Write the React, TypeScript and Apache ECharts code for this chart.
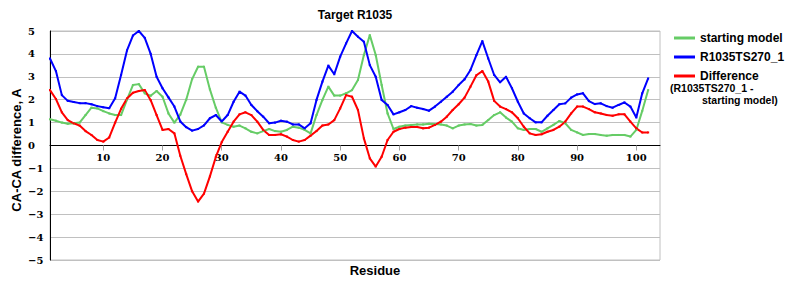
import React, { useEffect, useRef } from "react";
import * as echarts from "echarts";

const residues: string[] = Array.from({ length: 104 }, (_, i) => String(i + 1));
const xTickLabels = ["10", "20", "30", "40", "50", "60", "70", "80", "90", "100"];
const seriesNames = ["starting model", "R1035TS270_1", "Difference"];

const startingModel = [
  1.15, 1.08, 1.0, 0.95, 0.97, 1.0, 1.33, 1.65, 1.62, 1.5,
  1.4, 1.33, 1.33, 2.0, 2.64, 2.68, 2.28, 2.17, 2.38, 2.13,
  1.4, 1.0, 1.35, 2.0, 2.9, 3.44, 3.44, 2.45, 1.65, 1.01,
  0.9, 0.82, 0.87, 0.75, 0.6, 0.53, 0.63, 0.72, 0.63, 0.6,
  0.68, 0.82, 0.78, 0.68, 0.53, 1.33, 1.99, 2.57, 2.18, 2.18,
  2.28, 2.42, 2.86, 3.95, 4.82, 3.95, 2.64, 1.4, 0.72, 0.82,
  0.87, 0.9, 0.92, 0.92, 0.95, 0.94, 0.92, 0.87, 0.75, 0.87,
  0.92, 0.94, 0.87, 0.9, 1.11, 1.33, 1.45, 1.22, 1.04, 0.75,
  0.68, 0.72, 0.72, 0.6, 0.75, 0.9, 1.07, 0.97, 0.68, 0.57,
  0.46, 0.5, 0.5, 0.46, 0.43, 0.46, 0.46, 0.46, 0.39, 0.68,
  1.51, 2.42,
];

const model = [
  3.8, 3.25, 2.2, 1.95, 1.9, 1.85, 1.85, 1.8, 1.72, 1.67,
  1.63, 2.06, 3.08, 4.15, 4.8, 5.0, 4.7, 4.0, 3.0, 2.5,
  2.1, 1.7, 1.05, 0.8, 0.65, 0.72, 0.88, 1.19, 1.33, 1.05,
  1.33, 1.91, 2.35, 2.18, 1.77, 1.5, 1.26, 0.97, 1.0, 1.08,
  1.04, 0.92, 0.92, 0.75, 0.97, 1.99, 2.79, 3.49, 3.11, 3.88,
  4.46, 5.0, 4.75, 4.53, 3.51, 3.0, 1.99, 1.77, 1.36, 1.45,
  1.55, 1.72, 1.65, 1.59, 1.52, 1.7, 1.91, 2.13, 2.35, 2.64,
  2.89, 3.3, 3.95, 4.56, 3.8, 3.08, 2.76, 3.0, 2.5, 1.91,
  1.4, 1.19, 1.01, 1.01, 1.3, 1.55, 1.8, 1.84, 2.09, 2.23,
  2.28, 1.94, 1.81, 1.84, 1.72, 1.65, 1.77, 1.88, 1.7, 1.22,
  2.28, 2.93,
];

const difference = [
  2.42, 2.03, 1.45, 1.11, 0.97, 0.87, 0.63, 0.46, 0.24, 0.17,
  0.35, 1.0, 1.6, 2.05, 2.3, 2.38, 2.42, 1.98, 1.33, 0.68,
  0.72, 0.53, -0.45, -1.25, -2.0, -2.45, -2.1, -1.35, -0.5, 0.15,
  0.6, 1.04, 1.36, 1.45, 1.33, 1.04, 0.68, 0.46, 0.46, 0.49,
  0.39, 0.24, 0.17, 0.24, 0.43, 0.63, 0.87, 0.92, 1.11, 1.62,
  2.2, 2.13, 1.55, 0.31, -0.56, -0.92, -0.49, 0.24, 0.6, 0.72,
  0.78, 0.81, 0.81, 0.75, 0.78, 0.9, 1.04, 1.26, 1.55, 1.8,
  2.09, 2.57, 3.07, 3.25, 2.79, 1.95, 1.7, 1.59, 1.45, 1.19,
  0.82, 0.53, 0.46, 0.49, 0.6, 0.68, 0.82, 1.04, 1.4, 1.7,
  1.7, 1.59, 1.45, 1.4, 1.33, 1.3, 1.36, 1.36, 1.04, 0.75,
  0.57, 0.57,
];

const colors = ["#66cc66", "#0000ff", "#ff0000"];
const sans = '"Liberation Sans", Arial, sans-serif';
const serif = '"DejaVu Serif", serif';

export default function App() {
  const ref = useRef<HTMLDivElement>(null);
  useEffect(() => {
    if (!ref.current) return;
    const chart = echarts.init(ref.current, undefined, { renderer: "svg" });
    const showTick = (_i: number, v: string) => xTickLabels.includes(v);
    const mk = (name: string, data: number[], color: string) => ({
      name,
      type: "line",
      data,
      symbol: "rect",
      symbolSize: 2,
      showSymbol: true,
      lineStyle: { color, width: 2 },
      itemStyle: { color },
      z: 3,
    });
    chart.setOption({
      animation: false,
      grid: {
        left: 50,
        right: 140,
        top: 31,
        bottom: 40,
        show: true,
        borderColor: "#c0c0c0",
        borderWidth: 1,
      },
      xAxis: {
        type: "category",
        data: residues,
        boundaryGap: false,
        position: "bottom",
        offset: -114.5,
        axisLine: { onZero: false, lineStyle: { color: "#000", width: 1 } },
        axisTick: {
          interval: showTick,
          length: 5,
          lineStyle: { color: "#a0a0a0" },
        },
        axisLabel: {
          interval: showTick,
          fontFamily: serif,
          fontWeight: "bold",
          fontSize: 10,
          color: "#000",
          margin: 7,
        },
        splitLine: { show: false },
      },
      yAxis: {
        type: "value",
        min: -5,
        max: 5,
        interval: 1,
        axisLine: { show: true, onZero: false, lineStyle: { color: "#000" } },
        axisTick: { show: false },
        axisLabel: {
          formatter: (v: number) => (v < 0 ? "\u2212" + Math.abs(v) : String(v)),
          align: "left",
          margin: 22,
          fontFamily: serif,
          fontWeight: "bold",
          fontSize: 10,
          color: "#000",
        },
        splitLine: { lineStyle: { color: "#c0c0c0", width: 1 } },
      },
      legend: {
        orient: "vertical",
        left: 669,
        top: 27,
        icon: "rect",
        itemWidth: 21,
        itemHeight: 3,
        itemGap: 7,
        data: seriesNames,
        textStyle: {
          fontFamily: sans,
          fontWeight: "bold",
          fontSize: 12,
          color: "#000",
        },
      },
      graphic: [
        {
          type: "text",
          x: 355,
          y: 15,
          style: {
            text: "Target R1035",
            font: `bold 12px ${sans}`,
            fill: "#000",
            align: "center",
            verticalAlign: "middle",
          },
        },
        {
          type: "text",
          x: 16,
          y: 150,
          rotation: Math.PI / 2,
          style: {
            text: "CA-CA difference, A",
            font: `bold 13px ${sans}`,
            fill: "#000",
            align: "center",
            verticalAlign: "middle",
          },
        },
        {
          type: "text",
          x: 375,
          y: 270,
          style: {
            text: "Residue",
            font: `bold 13px ${sans}`,
            fill: "#000",
            align: "center",
            verticalAlign: "middle",
          },
        },
        {
          type: "text",
          x: 670,
          y: 87.5,
          style: {
            text: "(R1035TS270_1 -",
            font: `bold 10.5px ${sans}`,
            fill: "#000",
            align: "left",
            verticalAlign: "middle",
          },
        },
        {
          type: "text",
          x: 702,
          y: 99.5,
          style: {
            text: "starting model)",
            font: `bold 10.5px ${sans}`,
            fill: "#000",
            align: "left",
            verticalAlign: "middle",
          },
        },
      ],
      series: [
        mk(seriesNames[0], startingModel, colors[0]),
        mk(seriesNames[1], model, colors[1]),
        mk(seriesNames[2], difference, colors[2]),
      ],
    });
    return () => chart.dispose();
  }, []);
  return (
    <div
      ref={ref}
      style={{ position: "fixed", left: 0, top: 0, width: 800, height: 300, background: "#fff" }}
    />
  );
}
